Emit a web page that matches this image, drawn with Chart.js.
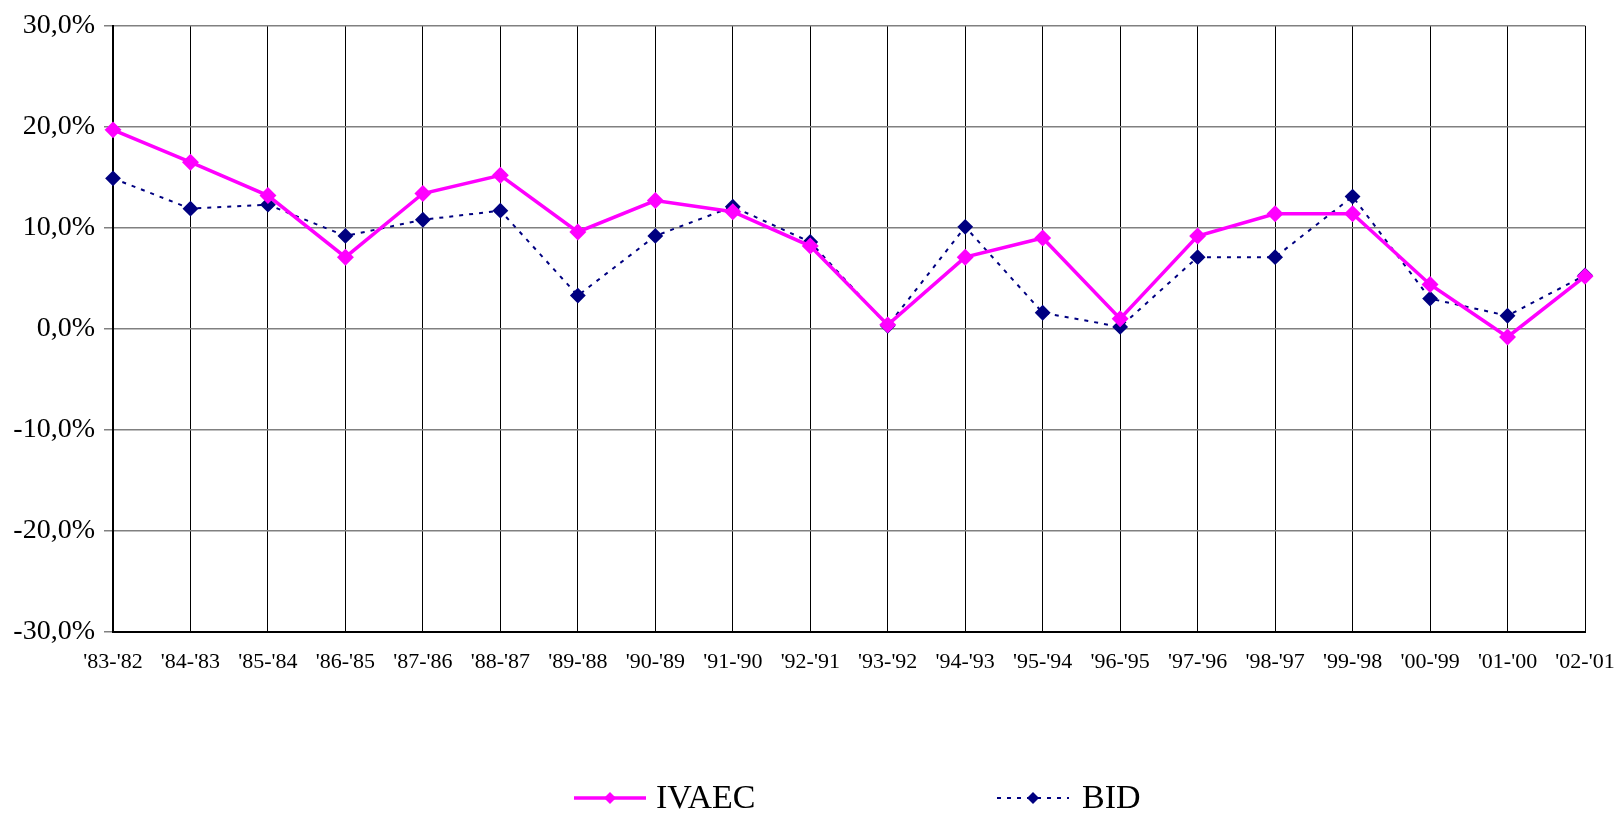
<!DOCTYPE html>
<html>
<head>
<meta charset="utf-8">
<script src="https://cdn.jsdelivr.net/npm/chart.js@4/dist/chart.umd.min.js"></script>
<style>
  html, body { margin: 0; padding: 0; background: #fff; }
  #wrap { width: 1618px; height: 814px; }
</style>
</head>
<body>
<div id="wrap"><canvas id="lineChart"></canvas></div>
<script>
const categories = ["'83-'82", "'84-'83", "'85-'84", "'86-'85", "'87-'86", "'88-'87", "'89-'88",
    "'90-'89", "'91-'90", "'92-'91", "'93-'92", "'94-'93", "'95-'94", "'96-'95",
    "'97-'96", "'98-'97", "'99-'98", "'00-'99", "'01-'00", "'02-'01"];
const ivaec = [19.7, 16.5, 13.2, 7.1, 13.4, 15.2, 9.6, 12.7, 11.6, 8.2, 0.4, 7.1, 9.0, 1.0,
    9.2, 11.4, 11.4, 4.4, -0.8, 5.2];
const bid = [14.9, 11.9, 12.3, 9.2, 10.8, 11.7, 3.3, 9.2, 12.1, 8.6, 0.3, 10.1, 1.6, 0.2,
    7.1, 7.1, 13.1, 3.0, 1.3, 5.3];
const yTicks = [-30, -20, -10, 0, 10, 20, 30];

const serif = "'Liberation Serif', 'Times New Roman', serif";

// legend drawn by hand: line + diamond + label, like the original
const lineLegend = {
    id: 'lineLegend',
    afterDraw(chart) {
        const ctx = chart.ctx;
        const spots = [{ x: 574, tx: 656 }, { x: 997, tx: 1082 }];
        const y = 798;
        chart.data.datasets.forEach((ds, i) => {
            const s = spots[i];
            ctx.save();
            ctx.strokeStyle = ds.borderColor;
            ctx.lineWidth = ds.borderWidth;
            ctx.setLineDash(ds.borderDash || []);
            ctx.beginPath();
            ctx.moveTo(s.x, y);
            ctx.lineTo(s.x + 72, y);
            ctx.stroke();
            ctx.setLineDash([]);
            ctx.fillStyle = ds.pointBackgroundColor;
            const cx = s.x + 36, r = 6;
            ctx.beginPath();
            ctx.moveTo(cx, y - r);
            ctx.lineTo(cx + r, y);
            ctx.lineTo(cx, y + r);
            ctx.lineTo(cx - r, y);
            ctx.closePath();
            ctx.fill();
            ctx.fillStyle = '#000';
            ctx.font = '34px ' + serif;
            ctx.textBaseline = 'middle';
            ctx.fillText(ds.label, s.tx, y + 1);
            ctx.restore();
        });
    }
};

new Chart(document.getElementById('lineChart'), {
    type: 'line',
    data: {
        labels: categories,
        datasets: [
            { label: 'IVAEC', data: ivaec, borderColor: '#ff00ff', borderWidth: 3.5,
              pointStyle: 'rectRot', pointRadius: 6, pointBackgroundColor: '#ff00ff',
              pointBorderColor: '#ff00ff', tension: 0, clip: false },
            { label: 'BID', data: bid, borderColor: '#000080', borderWidth: 2, borderDash: [4, 6],
              pointStyle: 'rectRot', pointRadius: 6.5, pointBackgroundColor: '#000080',
              pointBorderColor: '#000080', tension: 0, clip: false }
        ]
    },
    options: {
        responsive: true,
        maintainAspectRatio: false,
        animation: false,
        layout: { padding: { top: 22, right: 33, bottom: 132, left: 0 } },
        plugins: { legend: { display: false }, tooltip: { enabled: false } },
        scales: {
            x: {
                offset: false,
                grid: { color: '#000', lineWidth: 1, drawTicks: false },
                border: { color: '#000', width: 2 },
                ticks: { color: '#000', font: { family: serif, size: 22 }, padding: 17,
                         maxRotation: 0, minRotation: 0, autoSkip: false },
                afterFit(scale) {
                    scale.height = 50;
                    scale.paddingLeft = 0;
                    scale.paddingRight = 0;
                }
            },
            y: {
                min: -30, max: 30,
                afterBuildTicks(scale) { scale.ticks = yTicks.map(v => ({ value: v })); },
                grid: { color: '#808080', lineWidth: 1.5, tickLength: 9, tickColor: '#808080' },
                border: { color: '#000', width: 2 },
                ticks: { color: '#000', font: { family: serif, size: 28 }, padding: 9,
                         callback: v => v.toFixed(1).replace('.', ',') + '%' },
                afterFit(scale) { scale.width = 113; }
            }
        }
    },
    plugins: [lineLegend]
});
</script>
</body>
</html>
